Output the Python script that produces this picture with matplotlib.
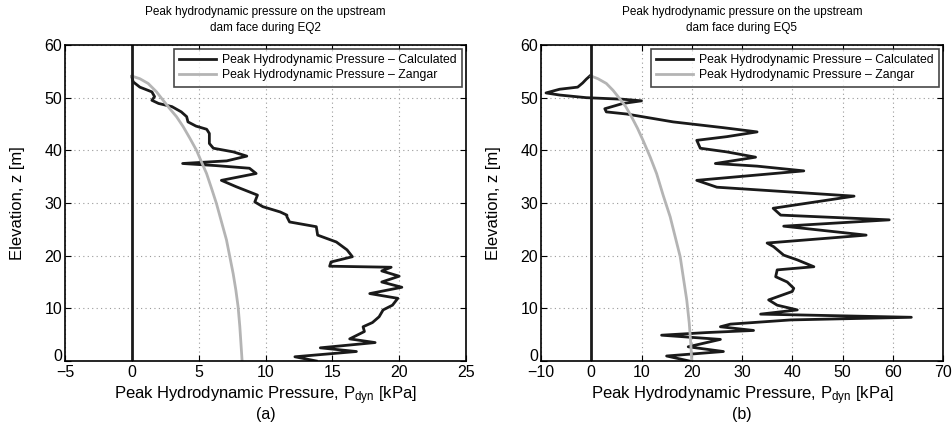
import matplotlib
matplotlib.use("Agg")
import matplotlib.pyplot as plt
import matplotlib.transforms as mtransforms

# PEAK HYDRODYNAMIC PRESSURE PROFILES (EQ2 / EQ5)

# Calculated profile, EQ2 (elevation [m], pressure [kPa])
eq2_z = [54.0, 53.0, 52.0, 51.1, 50.2, 49.5, 48.9, 48.3, 47.3, 46.4, 45.4,
         44.6, 44.0, 43.2, 41.3, 40.4, 39.7, 38.9, 38.0, 37.5, 37.1, 36.6,
         35.6, 34.3, 33.1, 32.1, 31.5, 30.2, 29.3, 28.3, 27.7, 27.4, 26.4,
         25.5, 23.9, 22.6, 21.1, 19.8, 18.8, 18.0, 17.8, 17.1, 16.1, 15.0,
         14.0, 12.8, 11.9, 10.6, 9.7, 8.4, 7.3, 6.5, 5.6, 4.2, 3.5, 2.5,
         1.8, 0.8, 0.0]
eq2_p = [0.0, 0.1, 0.6, 1.5, 1.7, 1.5, 2.0, 3.0, 3.7, 4.1, 4.2,
         4.8, 5.6, 5.8, 5.8, 6.1, 7.6, 8.6, 7.1, 3.8, 6.3, 8.8,
         9.3, 6.7, 7.8, 8.8, 9.4, 9.2, 9.8, 11.1, 11.6, 11.6, 11.8,
         13.8, 13.9, 15.3, 16.1, 16.5, 14.9, 14.8, 19.4, 18.7, 20.0, 18.7,
         20.2, 17.8, 19.9, 19.5, 18.8, 18.5, 18.0, 17.3, 17.4, 16.3, 18.2, 14.1,
         16.8, 12.2, 13.8]

# Zangar profile, EQ2
zan2_z = [54.1, 53.6, 52.7, 51.1, 49.5, 47.9, 46.4, 44.5, 42.3, 40.0, 37.8,
          35.6, 32.8, 29.9, 26.4, 23.0, 19.8, 16.6, 13.5, 10.3, 6.5, 0.0]
zan2_p = [0.0, 0.6, 1.22, 1.85, 2.34, 2.84, 3.34, 3.84, 4.34, 4.84, 5.21,
          5.59, 5.96, 6.33, 6.71, 7.08, 7.33, 7.58, 7.78, 7.95, 8.08, 8.25]

# Calculated profile, EQ5
eq5_z = [54.1, 53.5, 52.8, 52.0, 51.6, 50.9, 50.5, 50.0, 49.7, 49.4, 48.9,
         47.9, 47.3, 46.9, 45.4, 44.3, 43.5, 42.6, 41.9, 40.4, 39.7, 38.7,
         37.5, 37.0, 36.1, 34.3, 33.0, 31.3, 29.0, 27.7, 26.8, 25.6, 23.9,
         22.4, 21.7, 20.1, 19.2, 17.9, 17.3, 16.0, 15.0, 13.8, 13.2, 11.6,
         10.6, 9.7, 8.9, 8.3, 7.8, 7.0, 6.5, 5.8, 5.4, 4.9, 4.1, 2.7,
         1.8, 0.95, 0.0]
eq5_p = [-0.3, -1.0, -1.7, -2.7, -6.3, -9.0, -6.3, -1.0, 6.3, 10.0, 6.3,
         2.7, 3.0, 7.0, 16.3, 26.3, 33.0, 27.0, 21.0, 21.7, 27.0, 32.7,
         24.7, 33.0, 42.3, 21.0, 25.0, 52.3, 36.2, 37.7, 59.3, 38.3, 54.7,
         35.0, 36.3, 38.3, 41.0, 44.3, 37.0, 36.7, 39.0, 40.3, 40.0, 35.3,
         37.0, 41.0, 33.7, 63.7, 39.7, 27.7, 25.7, 32.3, 23.0, 14.0, 25.7, 19.3,
         26.3, 15.0, 19.5]

# Zangar profile, EQ5
zan5_z = [54.1, 53.6, 52.7, 51.4, 49.8, 48.3, 46.4, 44.2, 41.9, 38.8, 35.6,
          31.5, 27.4, 23.6, 19.8, 16.0, 11.6, 7.2, 3.4, 0.0]
zan5_p = [0.0, 1.33, 3.0, 4.33, 5.67, 6.87, 8.0, 9.2, 10.3, 11.7, 13.0,
          14.3, 15.7, 16.7, 17.7, 18.3, 19.0, 19.5, 19.8, 20.0]

panels = [
    dict(calc=(eq2_p, eq2_z), zan=(zan2_p, zan2_z), xlim=(-5, 25),
         xticks=[-5, 0, 5, 10, 15, 20, 25], eq="EQ2", tag="(a)"),
    dict(calc=(eq5_p, eq5_z), zan=(zan5_p, zan5_z), xlim=(-10, 70),
         xticks=[-10, 0, 10, 20, 30, 40, 50, 60, 70], eq="EQ5", tag="(b)"),
]

plt.rcParams["font.family"] = ["Liberation Sans", "DejaVu Sans"]
plt.rcParams["mathtext.default"] = "regular"

fig = plt.figure(figsize=(9.53, 4.34), dpi=100)

lefts = [65 / 953, 541 / 953]
widths = [401 / 953, 402 / 953]

for i, pan in enumerate(panels):
    ax = fig.add_axes([lefts[i], 73 / 434, widths[i], 316 / 434])

    ax.plot(pan["calc"][0], pan["calc"][1], color="#1a1a1a", lw=2.0,
            label="Peak Hydrodynamic Pressure \u2013 Calculated")
    ax.plot(pan["zan"][0], pan["zan"][1], color="#b4b4b4", lw=2.0,
            label="Peak Hydrodynamic Pressure \u2013 Zangar")
    ax.axvline(0, color="#1a1a1a", lw=2.0)

    ax.set_xlim(*pan["xlim"])
    ax.set_ylim(0, 60)
    ax.set_xticks(pan["xticks"])
    ax.set_xticklabels([str(t).replace("-", "\u2212") for t in pan["xticks"]])
    ax.set_yticks([0, 10, 20, 30, 40, 50, 60])

    ax.grid(True, color="#9a9a9a", linestyle=(0, (1, 3)), lw=0.8)
    ax.tick_params(direction="in", top=True, right=True, length=4,
                   labelsize=11.5, pad=2)
    ax.tick_params(axis="x", pad=3)
    for sp in ax.spines.values():
        sp.set_linewidth(1.2)

    # nudge the y "0" label up a little so it clears the first x label
    lab0 = ax.get_yticklabels()[0]
    lab0.set_transform(lab0.get_transform() +
                       mtransforms.ScaledTranslation(0, 4 / 72, fig.dpi_scale_trans))

    ax.set_xlabel("Peak Hydrodynamic Pressure, P$_{dyn}$ [kPa]", fontsize=12,
                  labelpad=3)
    ax.set_ylabel("Elevation, z [m]", fontsize=12, labelpad=14)
    ax.set_title("Peak hydrodynamic pressure on the upstream\n"
                 "dam face during " + pan["eq"], fontsize=8.5, pad=10,
                 linespacing=1.45)

    leg = ax.legend(loc="upper right", fontsize=8.8, frameon=True, fancybox=False,
                    edgecolor="#1a1a1a", handlelength=3.0, borderpad=0.45,
                    labelspacing=0.25, borderaxespad=0.3, handletextpad=0.5)
    leg.get_frame().set_linewidth(1.2)

    fig.text(lefts[i] + widths[i] / 2, 19 / 434, pan["tag"], ha="center",
             va="center", fontsize=11.5)

fig.savefig("out.png", dpi=100)
